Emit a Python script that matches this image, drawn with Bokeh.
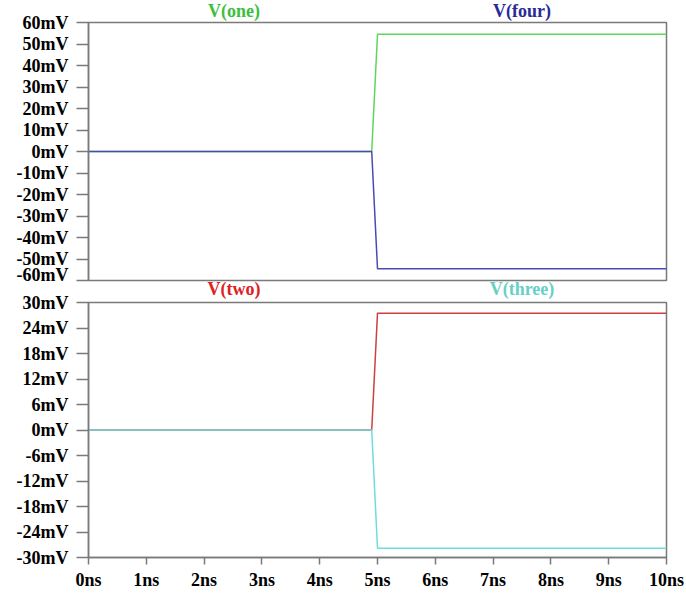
from bokeh.plotting import figure
from bokeh.layouts import column
from bokeh.models import FixedTicker, Range1d, Div
from bokeh.embed import file_html
from bokeh.resources import INLINE

# ---- data ----
time_ns = [0.0, 4.9, 5.0, 10.0]
v_one = [0.0, 0.0, 54.5, 54.5]
v_four = [0.0, 0.0, -54.5, -54.5]
v_two = [0.0, 0.0, 27.5, 27.5]
v_three = [0.0, 0.0, -27.8, -27.8]

top_ticks = [60, 50, 40, 30, 20, 10, 0, -10, -20, -30, -40, -50, -60]
top_tick_labels = ["60mV", "50mV", "40mV", "30mV", "20mV", "10mV", "0mV",
                   "-10mV", "-20mV", "-30mV", "-40mV", "-50mV", "-60mV"]
bottom_ticks = [30, 24, 18, 12, 6, 0, -6, -12, -18, -24, -30]
bottom_tick_labels = ["30mV", "24mV", "18mV", "12mV", "6mV", "0mV",
                      "-6mV", "-12mV", "-18mV", "-24mV", "-30mV"]
x_ticks = [0, 1, 2, 3, 4, 5, 6, 7, 8, 9, 10]
x_tick_labels = ["0ns", "1ns", "2ns", "3ns", "4ns", "5ns", "6ns",
                 "7ns", "8ns", "9ns", "10ns"]

top_series = [("V(one)", v_one, "#5cd65c", "#3cbf3c"),
              ("V(four)", v_four, "#4a4ab4", "#2a2a96")]
bottom_series = [("V(two)", v_two, "#cc4040", "#dd2222"),
                 ("V(three)", v_three, "#70dcdc", "#66d0c8")]

FONT = "Liberation Serif"
FSIZE = "18px"
GRAY = "#7a7a7a"


def style(p, ticks, labels):
    p.xgrid.visible = False
    p.ygrid.visible = False
    p.outline_line_color = GRAY
    p.outline_line_width = 1.5
    p.background_fill_color = "white"
    p.border_fill_alpha = 0
    ya = p.yaxis[0]
    ya.ticker = FixedTicker(ticks=ticks)
    ya.major_label_overrides = {t: l for t, l in zip(ticks, labels)}
    ya.major_tick_out = 12
    ya.major_tick_in = 0
    ya.minor_tick_out = 0
    ya.minor_tick_in = 0
    ya.axis_line_color = GRAY
    ya.axis_line_width = 1.5
    ya.major_tick_line_color = GRAY
    ya.major_tick_line_width = 1.5
    ya.major_label_text_font = FONT
    ya.major_label_text_font_style = "bold"
    ya.major_label_text_font_size = FSIZE
    ya.major_label_text_color = "black"
    ya.major_label_standoff = 8


p1 = figure(width=686, height=284, output_backend="svg", toolbar_location=None,
            x_range=Range1d(0, 10), y_range=Range1d(-60, 60),
            min_border_left=88, min_border_right=20, min_border_top=22,
            min_border_bottom=4)
style(p1, top_ticks, top_tick_labels)
p1.xaxis.visible = False
for name, vals, lc, tc in top_series:
    p1.line(time_ns, vals, line_color=lc, line_width=1.5)

p2 = figure(width=686, height=308, output_backend="svg", toolbar_location=None,
            x_range=Range1d(0, 10), y_range=Range1d(-30, 30),
            min_border_left=88, min_border_right=20, min_border_top=18,
            min_border_bottom=33)
style(p2, bottom_ticks, bottom_tick_labels)
xa = p2.xaxis[0]
xa.ticker = FixedTicker(ticks=x_ticks)
xa.major_label_overrides = {t: l for t, l in zip(x_ticks, x_tick_labels)}
xa.major_tick_out = 7
xa.major_tick_in = 0
xa.minor_tick_out = 0
xa.minor_tick_in = 0
xa.axis_line_color = GRAY
xa.axis_line_width = 1.5
xa.major_tick_line_color = GRAY
xa.major_tick_line_width = 1.5
xa.major_label_text_font = FONT
xa.major_label_text_font_style = "bold"
xa.major_label_text_font_size = FSIZE
xa.major_label_text_color = "black"
xa.major_label_standoff = 5
for name, vals, lc, tc in bottom_series:
    p2.line(time_ns, vals, line_color=lc, line_width=1.5)

# trace names above each panel, as an overlay of real HTML text
spans = []
for series, ytop in ((top_series, -1), (bottom_series, 277)):
    for (name, vals, lc, tc), xc in zip(series, (234, 522)):
        spans.append(
            f'<span style="position:absolute;left:{xc}px;top:{ytop}px;'
            f'transform:translate(-50%,-50%);color:{tc};'
            f"font-family:'{FONT}';font-weight:bold;font-size:{FSIZE};"
            f'white-space:nowrap;z-index:10;line-height:1;">{name}</span>')
overlay = Div(text='<div style="position:relative;width:686px;height:0px;'
                   'overflow:visible;">' + "".join(spans) + "</div>",
              width=686, height=0, margin=0,
              styles={"overflow": "visible", "z-index": "10"})

layout = column(overlay, p1, p2)
open("out.html", "w").write(file_html(layout, INLINE))
